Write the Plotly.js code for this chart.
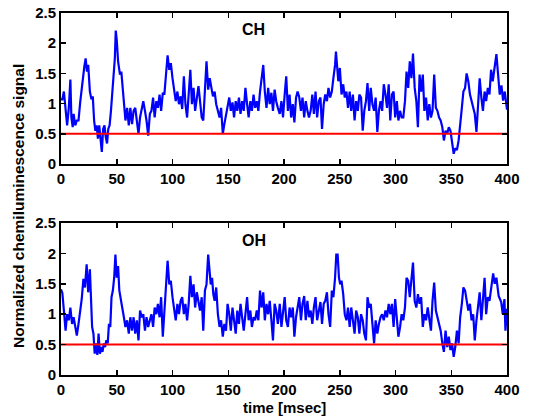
<!DOCTYPE html>
<html>
<head>
<meta charset="utf-8">
<script src="https://cdn.plot.ly/plotly-3.0.1.min.js"></script>
<style>html,body{margin:0;padding:0;background:#fff;}#chart{width:539px;height:419px;}</style>
</head>
<body>
<div id="chart"></div>
<script>
// ---- data ----
const chTime = [
 0, 1.2, 2.6, 4.1, 4.7, 5.5, 7.0, 8.4, 9.3, 10.5,
 11.3, 12.8, 14.2, 15.7, 17.2, 18.6, 19.8, 20.9, 22.1, 23.3,
 24.4, 25.9, 27.3, 28.5, 29.7, 30.8, 32.0, 33.1, 34.3, 35.5,
 36.6, 37.8, 39.0, 40.1, 41.3, 42.4, 43.6, 44.8, 45.9, 47.1,
 48.3, 49.1, 50.0, 51.2, 52.0, 52.9, 54.1, 55.2, 56.4, 57.8,
 59.3, 60.8, 62.2, 63.7, 65.1, 66.6, 68.0, 69.5, 70.9, 72.4,
 73.8, 75.3, 76.7, 78.2, 79.7, 81.1, 82.6, 84.0, 85.5, 86.9,
 88.4, 89.8, 91.3, 92.7, 94.2, 95.6, 97.1, 98.5, 100.0, 101.5,
 102.9, 104.4, 105.8, 107.3, 108.7, 110.2, 111.6, 113.1, 114.5, 116.0,
 117.4, 118.9, 120.3, 121.8, 123.3, 124.7, 126.2, 127.6, 129.1, 130.5,
 132.0, 133.4, 134.9, 136.3, 137.8, 139.2, 140.7, 142.2, 143.6, 145.1,
 146.5, 148.0, 149.4, 150.9, 152.3, 153.8, 155.2, 156.7, 158.1, 159.6,
 161.0, 162.5, 163.9, 165.4, 166.9, 168.3, 169.8, 171.2, 172.7, 174.1,
 175.6, 177.0, 178.5, 179.9, 181.4, 182.8, 184.3, 185.8, 187.2, 188.7,
 190.1, 191.6, 193.0, 194.5,
 196.2, 197.7, 199.1, 200.6, 202.0, 203.5, 205.0, 206.4, 207.9, 209.3,
 210.8, 212.2, 213.7, 215.2, 216.6, 218.1, 219.5, 221.0, 222.4, 223.9,
 225.4, 226.8, 228.3, 229.7, 231.2, 232.7, 234.1, 235.6, 237.0, 238.5,
 239.9, 241.4, 242.9, 244.3, 245.8, 246.6, 247.8, 248.7, 250.1, 251.6,
 253.1, 254.5, 256.0, 257.4, 258.9, 260.3, 261.8, 263.3, 264.7, 266.2,
 267.6, 269.1, 270.6, 272.0, 273.5, 274.9, 276.4, 277.8, 279.3, 280.8,
 282.2, 283.7, 285.1, 286.6, 288.0, 289.5, 291.0, 292.4, 293.9, 295.3,
 296.8, 298.3, 299.7, 301.2, 302.6, 304.1, 305.5, 307.0, 308.5, 309.9,
 311.4, 312.8, 314.3, 315.7, 317.2, 318.7, 320.1, 321.6, 323.0, 324.5,
 325.9, 327.4, 328.9, 330.3, 331.8, 333.2, 334.7, 336.2, 337.6, 339.1,
 340.5, 342.0, 343.4, 344.9, 346.4, 347.8, 349.3, 350.7, 352.2, 353.6,
 355.1, 356.6, 358.0, 359.5, 360.9, 362.4, 363.8, 365.3, 366.8, 368.2,
 369.7, 371.1, 372.6, 374.1, 375.5, 377.0, 378.4, 379.9, 381.3, 382.8,
 384.3, 385.7, 387.2, 390.5, 392.0, 393.5, 395.0, 396.5, 398.0, 400.0
];
const chSignal = [
 1.07, 1.07, 1.20, 0.88, 0.77, 0.64, 0.93, 1.40, 0.77, 0.61,
 0.83, 0.64, 0.72, 0.72, 1.02, 1.29, 1.45, 1.61, 1.75, 1.53,
 1.64, 1.20, 1.07, 1.12, 0.72, 0.55, 0.64, 0.42, 0.64, 0.39,
 0.20, 0.58, 0.64, 0.45, 0.34, 0.58, 0.64, 0.88, 1.20, 1.42,
 1.75, 2.21, 2.05, 1.70, 1.56, 1.48, 1.53, 1.29, 1.04, 0.72,
 0.93, 0.64, 0.93, 0.66, 0.88, 0.93, 0.72, 0.50, 0.77, 0.93,
 1.04, 0.88, 0.72, 0.47, 0.83, 0.88, 1.10, 0.77, 1.04, 0.93,
 1.15, 0.88, 1.18, 1.15, 1.45, 1.80, 1.56, 1.67, 1.42, 1.20,
 1.04, 1.20, 0.99, 1.12, 0.91, 1.45, 0.99, 0.77, 1.20, 1.56,
 0.99, 1.26, 0.88, 1.10, 1.29, 1.04, 0.77, 0.72, 1.15, 1.70,
 1.23, 1.42, 1.26, 1.12, 1.20, 0.99, 0.88, 0.77, 0.93, 0.50,
 0.66, 0.83, 0.93, 1.10, 0.88, 1.02, 0.77, 1.04, 0.88, 1.10,
 0.83, 1.04, 0.88, 1.26, 0.99, 0.77, 1.04, 0.88, 1.15, 0.93,
 1.04, 0.88, 1.20, 1.42, 1.64, 1.20, 0.93, 1.26, 0.99, 1.18,
 0.88, 1.23, 1.04, 0.93,
 0.83, 1.04, 0.77, 1.15, 1.45, 0.88, 1.15, 0.77, 0.99, 0.69,
 1.10, 1.20, 1.10, 0.88, 1.10, 0.77, 1.04, 0.88, 0.77, 0.88,
 1.15, 0.83, 1.20, 0.77, 1.04, 1.10, 0.58, 0.99, 1.15, 1.04,
 1.26, 1.10, 1.20, 1.42, 1.64, 1.86, 1.64, 1.37, 1.59, 1.15,
 1.32, 1.10, 1.20, 0.93, 1.20, 0.88, 1.15, 0.72, 1.04, 0.88,
 1.15, 1.10, 0.55, 0.88, 1.04, 1.34, 0.88, 1.26, 0.99, 0.88,
 1.10, 0.53, 0.88, 1.04, 0.88, 1.32, 1.15, 0.93, 1.32, 0.72,
 1.15, 1.20, 0.77, 1.04, 0.72, 0.88, 0.77, 0.77, 1.04, 1.53,
 1.26, 1.70, 1.42, 1.83, 1.26, 1.04, 0.61, 1.48, 1.20, 1.48,
 0.88, 1.10, 0.72, 0.99, 0.77, 0.88, 1.48, 0.93, 0.88, 0.77,
 0.72, 0.61, 0.39, 0.55, 0.50, 0.61, 0.55, 0.34, 0.17, 0.26,
 0.23, 0.39, 0.72, 0.93, 1.20, 1.26, 1.50, 1.37, 1.15, 1.04,
 0.93, 0.83, 0.53, 0.99, 1.42, 1.10, 0.88, 1.20, 1.04, 1.26,
 1.15, 1.56, 1.37, 1.82, 1.40, 1.15, 1.30, 1.05, 1.20, 0.90
];

const ohTime = [
 0, 1.2, 2.6, 4.1, 5.5, 7.0, 8.4, 9.9, 11.3, 12.8,
 14.2, 15.7, 17.2, 18.6, 20.1, 21.5, 23.0, 24.4, 25.9, 26.7,
 27.9, 29.1, 30.2, 31.4, 32.6, 33.7, 34.9, 36.0, 37.2, 38.4,
 39.5, 40.7, 41.9, 43.0, 44.2, 45.3, 46.5, 47.7, 48.8, 50.0,
 51.2, 52.3, 53.5, 54.9, 56.4, 57.8, 59.3, 60.8, 62.2, 63.7,
 65.1, 66.6, 68.0, 69.5, 70.9, 72.4, 73.8, 75.3, 76.7, 78.2,
 79.7, 81.1, 82.6, 84.0, 85.5, 86.9, 88.4, 89.8, 91.3, 92.7,
 94.2, 95.6, 97.1, 98.5, 100.0, 101.5, 102.9, 104.4, 105.8, 107.3,
 108.7, 110.2, 111.6, 113.1, 114.5, 116.0, 117.4, 118.9, 120.3, 121.8,
 123.3, 124.7, 126.2, 127.6, 129.1, 130.5, 132.0, 133.1, 134.3, 135.5,
 136.6, 137.8, 139.2, 140.7, 142.2, 143.6, 145.1, 146.5, 148.0, 149.4,
 150.9, 152.3, 153.8, 155.2, 156.7, 158.1, 159.6, 161.0, 162.5, 163.9,
 165.4, 166.9, 168.3, 169.8, 171.2, 172.7, 174.1, 175.6, 177.0, 178.5,
 179.9, 181.4, 182.8, 184.3, 185.8, 187.2, 188.7, 190.1, 191.6, 193.0,
 194.5,
 196.2, 197.7, 199.1, 200.6, 202.0, 203.5, 205.0, 206.4, 207.9, 209.3,
 210.8, 212.2, 213.7, 215.2, 216.6, 218.1, 219.5, 221.0, 222.4, 223.9,
 225.4, 226.8, 228.3, 229.7, 231.2, 232.7, 234.1, 235.6, 237.0, 238.5,
 239.9, 241.4, 242.9, 244.3, 245.8, 246.9, 248.1, 249.3, 250.4, 251.6,
 253.1, 254.5, 256.0, 257.4, 258.9, 260.3, 261.8, 263.3, 264.7, 266.2,
 267.6, 269.1, 270.6, 272.0, 273.5, 274.9, 276.4, 277.8, 279.3, 280.8,
 282.2, 283.7, 285.1, 286.6, 288.0, 289.5, 291.0, 292.4, 293.9, 295.3,
 296.8, 298.3, 299.7, 301.2, 302.6, 304.1, 305.5, 307.0, 308.5, 309.9,
 311.4, 312.8, 314.3, 315.7, 317.2, 318.7, 320.1, 321.6, 323.0, 324.5,
 325.9, 327.4, 328.9, 330.3, 331.8, 333.2, 334.7, 336.2, 337.6, 339.1,
 340.5, 342.0, 343.4, 344.9, 346.4, 347.8, 349.3, 350.7, 352.2, 353.6,
 355.1, 356.6, 358.0, 359.5, 360.9, 362.4, 363.8, 365.3, 366.8, 368.2,
 369.7, 371.1, 372.6, 374.1, 375.5, 377.0, 378.4, 379.9, 381.3, 382.8,
 384.3, 385.7, 387.6, 389.0, 390.5, 392.5, 394.8, 396.2, 397.7, 398.6,
 400.0
];
const ohSignal = [
 1.41, 1.35, 1.06, 0.73, 1.00, 0.90, 1.11, 0.84, 0.95, 0.79,
 0.65, 0.84, 1.06, 1.25, 1.58, 1.44, 1.82, 1.36, 1.74, 1.17,
 0.79, 0.68, 0.35, 0.52, 0.33, 0.68, 0.35, 0.46, 0.38, 0.52,
 0.46, 0.57, 0.52, 0.84, 0.79, 1.28, 1.39, 1.60, 1.98, 1.60,
 1.79, 1.39, 1.22, 1.11, 0.95, 0.79, 0.90, 0.68, 0.95, 0.73,
 0.95, 0.68, 0.90, 0.57, 1.06, 0.95, 1.00, 0.73, 0.95, 0.79,
 0.90, 1.00, 0.79, 1.11, 1.00, 1.17, 0.95, 1.28, 0.63, 1.11,
 1.55, 1.88, 1.49, 1.55, 1.28, 1.06, 0.90, 1.17, 1.00, 1.22,
 1.28, 1.00, 1.17, 0.90, 1.17, 1.63, 1.28, 1.49, 1.11, 1.36,
 1.22, 1.06, 1.28, 0.73, 1.39, 1.49, 1.98, 1.71, 1.49, 1.60,
 1.33, 1.22, 1.44, 1.00, 0.79, 0.90, 0.63, 0.84, 0.73, 1.17,
 1.00, 0.73, 1.11, 0.90, 0.68, 1.06, 0.84, 1.17, 0.90, 0.73,
 1.00, 1.28, 0.90, 1.06, 0.79, 0.95, 0.90, 1.06, 0.90, 1.39,
 1.11, 1.36, 0.90, 1.17, 1.00, 1.22, 0.90, 0.57, 1.17, 1.06,
 0.84,
 1.17, 0.79, 1.06, 1.28, 0.90, 0.79, 1.11, 0.95, 1.11, 0.63,
 0.95, 1.11, 1.28, 0.90, 1.17, 1.30, 0.90, 1.22, 0.95, 1.06,
 0.84, 1.11, 1.28, 0.90, 1.06, 1.20, 0.84, 1.17, 1.22, 1.36,
 1.00, 0.79, 1.39, 1.28, 1.60, 1.98, 1.98, 1.60, 1.49, 1.55,
 1.33, 1.00, 0.90, 1.11, 0.79, 1.11, 0.90, 0.68, 1.06, 0.95,
 0.68, 1.00, 0.90, 0.68, 0.57, 1.28, 1.11, 1.17, 0.84, 0.52,
 0.90, 0.68, 0.84, 0.95, 1.00, 0.90, 1.06, 0.95, 1.17, 1.00,
 1.17, 0.79, 1.25, 0.90, 0.63, 0.79, 1.00, 0.90, 1.11, 1.60,
 1.55, 1.28, 1.66, 1.85, 1.22, 1.11, 1.33, 1.17, 1.28, 0.79,
 1.00, 0.90, 1.11, 0.90, 0.73, 1.22, 1.52, 1.06, 0.95, 0.84,
 0.73, 0.52, 0.38, 0.73, 0.46, 0.63, 0.41, 0.52, 0.30, 0.46,
 0.73, 0.52, 0.95, 1.17, 1.44, 1.39, 1.22, 1.06, 1.17, 0.90,
 1.00, 0.57, 0.90, 1.11, 1.36, 0.90, 1.22, 1.60, 1.00, 1.28,
 1.22, 1.44, 1.67, 1.50, 1.60, 1.30, 1.20, 1.00, 1.25, 0.73,
 1.09
];

const thresholdTime = [0, 400];
const thresholdLevel = [0.5, 0.5];
const panelLabels = ['CH', 'OH'];
const xTickValues = [0, 50, 100, 150, 200, 250, 300, 350, 400];
const yTickValues = [0, 0.5, 1, 1.5, 2, 2.5];
const yTickLabels = ['0', '0.5', '1', '1.5', '2', '2.5'];
const xTitle = 'time [msec]';
const yTitle = 'Normalized chemiluminescence signal';

// ---- styling ----
const FONT = 'Liberation Sans, Arial, Helvetica, sans-serif';
const blue = '#0000ff';
const red = '#ff0000';

const traces = [
  {x: chTime, y: chSignal, xaxis: 'x', yaxis: 'y', type: 'scatter', mode: 'lines',
   line: {color: blue, width: 2.2}, hoverinfo: 'skip'},
  {x: thresholdTime, y: thresholdLevel, xaxis: 'x', yaxis: 'y', type: 'scatter', mode: 'lines',
   line: {color: red, width: 2}, hoverinfo: 'skip'},
  {x: ohTime, y: ohSignal, xaxis: 'x2', yaxis: 'y2', type: 'scatter', mode: 'lines',
   line: {color: blue, width: 2.2}, hoverinfo: 'skip'},
  {x: thresholdTime, y: thresholdLevel, xaxis: 'x2', yaxis: 'y2', type: 'scatter', mode: 'lines',
   line: {color: red, width: 2}, hoverinfo: 'skip'}
];

const tickFont = {family: FONT, size: 15, color: '#000', weight: 'bold'};
function xAxis(anchor) {
  return {
    domain: [61/539, 507/539], anchor: anchor, range: [0, 400],
    tickmode: 'array', tickvals: xTickValues, ticktext: xTickValues.map(String),
    ticks: 'inside', ticklen: 5, tickwidth: 1.5, tickcolor: '#000',
    showline: true, linecolor: '#000', linewidth: 2, mirror: 'ticks',
    showgrid: false, zeroline: false, tickfont: tickFont, fixedrange: true
  };
}
function yAxis(anchor, top, bottom) {
  return {
    domain: [1 - bottom/419, 1 - top/419], anchor: anchor, range: [0, 2.5],
    tickmode: 'array', tickvals: yTickValues, ticktext: yTickLabels,
    ticks: 'inside', ticklen: 5, tickwidth: 1.5, tickcolor: '#000',
    showline: true, linecolor: '#000', linewidth: 2, mirror: 'ticks',
    showgrid: false, zeroline: false, tickfont: tickFont, fixedrange: true
  };
}

const layout = {
  width: 539, height: 419,
  margin: {l: 0, r: 0, t: 0, b: 0},
  paper_bgcolor: '#fff', plot_bgcolor: '#fff',
  showlegend: false,
  xaxis: xAxis('y'),
  yaxis: yAxis('x', 13, 164),
  xaxis2: xAxis('y2'),
  yaxis2: yAxis('x2', 223, 375),
  annotations: [
    {text: panelLabels[0], xref: 'x', yref: 'y', x: 173, y: 2.22, showarrow: false,
     font: {family: FONT, size: 16, color: '#000', weight: 'bold'}},
    {text: panelLabels[1], xref: 'x2', yref: 'y2', x: 173, y: 2.22, showarrow: false,
     font: {family: FONT, size: 16, color: '#000', weight: 'bold'}},
    {text: yTitle, xref: 'paper', yref: 'paper', x: 18/539, y: 1 - 206/419, textangle: -90,
     showarrow: false, xanchor: 'center', yanchor: 'middle',
     font: {family: FONT, size: 15.5, color: '#000', weight: 'bold'}},
    {text: xTitle, xref: 'paper', yref: 'paper', x: 284/539, y: 1 - 407/419,
     showarrow: false, xanchor: 'center', yanchor: 'middle',
     font: {family: FONT, size: 15, color: '#000', weight: 'bold'}}
  ]
};

Plotly.newPlot('chart', traces, layout, {staticPlot: true, displayModeBar: false});
</script>
</body>
</html>
